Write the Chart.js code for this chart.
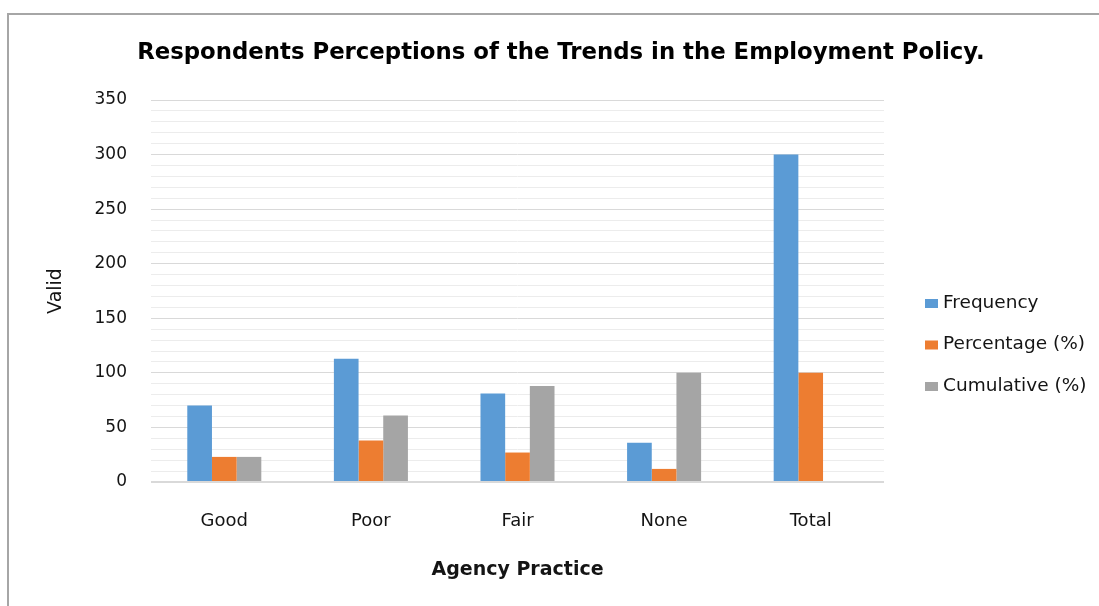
<!DOCTYPE html>
<html>
<head>
<meta charset="utf-8">
<script src="https://cdn.jsdelivr.net/npm/chart.js@4.4.1/dist/chart.umd.min.js"></script>
<style>
  html, body { margin: 0; padding: 0; background: #ffffff; }
  #wrap { position: relative; width: 1099px; height: 606px; overflow: hidden; }
  #frame { position: absolute; left: 7px; top: 13px; width: 1200px; height: 700px;
           border: 2px solid #a6a6a6; box-sizing: border-box; }
  #c { position: absolute; left: 0; top: 0; }
</style>
</head>
<body>
<div id="wrap">
  <div id="frame"></div>
  <canvas id="c" width="1099" height="606"></canvas>
</div>
<script>
// Survey results by agency practice
const categories = ['Good', 'Poor', 'Fair', 'None', 'Total'];
const frequency  = [70, 113, 81, 36, 300];
const percentage = [23, 38, 27, 12, 100];
const cumulative = [23, 61, 88, 100, null];
const seriesNames = ['Frequency', 'Percentage (%)', 'Cumulative (%)'];
const seriesColors = ['#5b9bd5', '#ed7d31', '#a5a5a5'];
const yTickLabels = [0, 50, 100, 150, 200, 250, 300, 350];

const FONT = 'DejaVu Sans';
const TEXT = '#141414';

// Legend drawn in the reserved space to the right of the plot
const sideLegend = {
  id: 'sideLegend',
  afterDraw(chart) {
    const { ctx, chartArea } = chart;
    const x0 = chartArea.right + 41;
    ctx.save();
    ctx.font = '18.5px "' + FONT + '"';
    ctx.textBaseline = 'middle';
    ctx.textAlign = 'left';
    chart.data.datasets.forEach((ds, i) => {
      const yc = chartArea.top + 203 + i * 41.5;
      ctx.fillStyle = ds.backgroundColor;
      ctx.fillRect(x0, yc - 4, 13, 9);
      ctx.fillStyle = TEXT;
      ctx.fillText(ds.label, x0 + 18, yc);
    });
    ctx.restore();
  }
};

new Chart(document.getElementById('c'), {
  type: 'bar',
  data: {
    labels: categories,
    datasets: [
      { label: seriesNames[0], data: frequency,  backgroundColor: seriesColors[0] },
      { label: seriesNames[1], data: percentage, backgroundColor: seriesColors[1] },
      { label: seriesNames[2], data: cumulative, backgroundColor: seriesColors[2] }
    ]
  },
  options: {
    responsive: false,
    animation: false,
    devicePixelRatio: 1,
    layout: { padding: { left: 23, right: 0, top: 0, bottom: 0 } },
    datasets: { bar: { categoryPercentage: 0.505, barPercentage: 1.0, borderWidth: 0 } },
    plugins: {
      legend: { display: false },
      tooltip: { enabled: false },
      title: {
        display: true,
        text: 'Respondents Perceptions of the Trends in the Employment Policy.',
        color: '#000000',
        font: { family: FONT, size: 22.8, weight: 'bold', lineHeight: 1.2 },
        padding: { top: 39.3, bottom: 33.34 }
      }
    },
    scales: {
      x: {
        type: 'category',
        grid: { display: false },
        border: { display: false },
        ticks: { color: TEXT, font: { family: FONT, size: 18 }, padding: 21 },
        title: {
          display: true,
          text: 'Agency Practice',
          color: TEXT,
          font: { family: FONT, size: 19, weight: 'bold', lineHeight: 1.2 },
          padding: { top: 0, bottom: 25 }
        },
        afterFit(scale) { scale.height = 124; }
      },
      y: {
        min: 0,
        max: 350,
        border: { display: false },
        grid: {
          drawTicks: false,
          color: (c) => (c.tick && c.tick.value % 50 === 0) ? '#d9d9d9' : '#ececec',
          lineWidth: (c) => (c.tick && c.tick.value === 0) ? 2 : 1
        },
        ticks: {
          stepSize: 10,
          autoSkip: false,
          padding: 24,
          color: TEXT,
          font: { family: FONT, size: 17 },
          callback: (v) => yTickLabels.includes(v) ? String(v) : ''
        },
        title: {
          display: true,
          text: 'Valid',
          color: TEXT,
          font: { family: FONT, size: 19, lineHeight: 1.2 },
          padding: { top: 22, bottom: 0 }
        },
        afterFit(scale) { scale.width = 128; }
      },
      legendSpace: {
        type: 'linear',
        position: 'right',
        display: true,
        grid: { display: false, drawOnChartArea: false },
        border: { display: false },
        ticks: { display: false },
        afterFit(scale) { scale.width = 215; }
      }
    }
  },
  plugins: [sideLegend]
});
</script>
</body>
</html>
